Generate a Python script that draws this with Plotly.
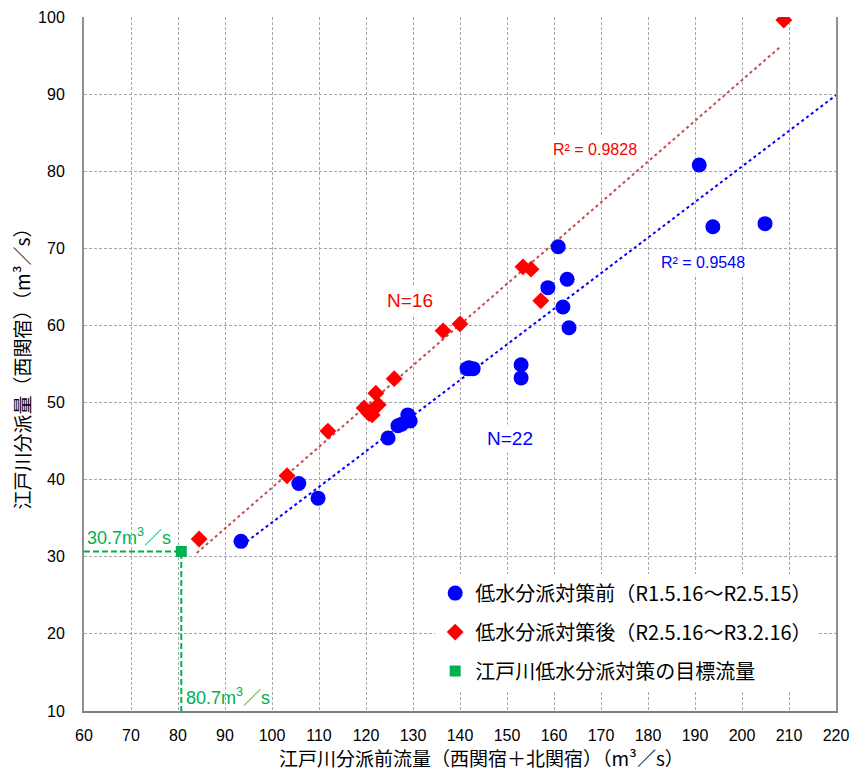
import numpy as np
import plotly.graph_objects as go

# Before countermeasure (blue circles)
before_x = [93.4, 105.7, 109.8, 124.7, 126.8, 128.9, 129.4, 141.5, 142.2, 142.8,
            153.0, 153.0, 158.7, 160.9, 162.8, 161.9, 163.2, 190.9, 193.8, 204.9,
            127.6, 141.9]
before_y = [32.0, 39.5, 37.6, 45.4, 47.0, 48.4, 47.6, 54.4, 54.4, 54.4,
            54.9, 53.2, 64.9, 70.2, 66.0, 62.4, 59.7, 80.8, 72.8, 73.2,
            47.2, 54.5]
# After countermeasure (red diamonds)
after_x = [84.5, 103.2, 111.9, 119.6, 120.6, 121.3, 122.1, 122.6, 126.0, 136.4,
           140.0, 153.4, 155.1, 157.2, 208.9, 121.0]
after_y = [32.3, 40.5, 46.3, 49.3, 48.6, 48.4, 51.2, 49.7, 53.1, 59.3,
           60.2, 67.6, 67.3, 63.2, 99.6, 48.8]
# Target flow
target_x = [80.7]
target_y = [30.7]

# Linear trendlines as shown in the chart (slope, intercept) and x-extent
before_fit = (0.4617, -11.72)
before_fit_range = [94.6, 220.0]
after_fit = (0.5286, -13.9)
after_fit_range = [84.0, 208.1]

x_ticks = list(range(60, 221, 10))
y_ticks = list(range(10, 101, 10))

FONT = "Liberation Sans, Arial, Noto Sans CJK JP, sans-serif"
JFONT = "Noto Sans CJK JP, sans-serif"
GREEN = "#00B050"
GRID = "#A6A6A6"

fig = go.Figure()

ax_ = np.array(after_fit_range)
bx_ = np.array(before_fit_range)
fig.add_trace(go.Scatter(x=ax_, y=after_fit[0] * ax_ + after_fit[1], mode="lines",
                         line=dict(color="#C0504D", width=2, dash="dot"),
                         showlegend=False, hoverinfo="skip"))
fig.add_trace(go.Scatter(x=bx_, y=before_fit[0] * bx_ + before_fit[1], mode="lines",
                         line=dict(color="#0000FF", width=2, dash="dot"),
                         showlegend=False, hoverinfo="skip"))

# green dashed guide lines
fig.add_trace(go.Scatter(x=[60, target_x[0], target_x[0]], y=[target_y[0], target_y[0], 10],
                         mode="lines", line=dict(color=GREEN, width=2, dash="6px,3px"),
                         showlegend=False, hoverinfo="skip"))

fig.add_trace(go.Scatter(x=before_x, y=before_y, mode="markers",
                         name="低水分派対策前（R1.5.16～R2.5.15）",
                         legendgroup="a",
                         marker=dict(symbol="circle", size=15, color="#0000FF")))
fig.add_trace(go.Scatter(x=after_x, y=after_y, mode="markers",
                         name="低水分派対策後（R2.5.16～R3.2.16）",
                         legendgroup="b",
                         marker=dict(symbol="diamond", size=13, color="#FF0000")))
fig.add_trace(go.Scatter(x=target_x, y=target_y, mode="markers",
                         name="江戸川低水分派対策の目標流量",
                         legendgroup="c",
                         marker=dict(symbol="square", size=11, color=GREEN)))

ann = [
    dict(x=168.7, y=82.8, text="R² = 0.9828", color="#FF0000", size=16),
    dict(x=191.7, y=68.2, text="R² = 0.9548", color="#0000FF", size=16),
    dict(x=129.4, y=63.3, text="N=16", color="#FF0000", size=19),
    dict(x=150.6, y=45.4, text="N=22", color="#0000FF", size=19),
]
for a in ann:
    fig.add_annotation(x=a["x"], y=a["y"], text=a["text"], showarrow=False,
                       font=dict(color=a["color"], size=a["size"], family=FONT),
                       bgcolor="white", borderpad=3)

fig.add_annotation(x=target_x[0], y=target_y[0], text="30.7m<sup>3</sup>／s",
                   showarrow=False, xanchor="right", yanchor="bottom", xshift=-8, yshift=1,
                   font=dict(color=GREEN, size=18, family=FONT))
fig.add_annotation(x=target_x[0], y=10, text="80.7m<sup>3</sup>／s",
                   showarrow=False, xanchor="left", yanchor="bottom", xshift=3, yshift=1,
                   font=dict(color=GREEN, size=18, family=FONT))

# x-axis title (placed as annotation to match its offset)
fig.add_annotation(xref="paper", yref="paper", x=0.528, y=-0.0677,
                   text="江戸川分派前流量（西関宿＋北関宿）（m³／s）",
                   showarrow=False, xanchor="center", yanchor="middle",
                   font=dict(size=19, family=JFONT, color="black"))

fig.update_layout(
    width=849, height=763,
    margin=dict(l=76, r=21, t=9, b=60, autoexpand=False),
    paper_bgcolor="white", plot_bgcolor="white",
    font=dict(family=FONT, size=16, color="black"),
    showlegend=True,
    legend=dict(x=0.467, y=0.198, xanchor="left", yanchor="top",
                bgcolor="white", font=dict(size=20, family=JFONT, color="black"),
                tracegroupgap=10, itemsizing="trace"),
    xaxis=dict(range=[60, 220], tickvals=x_ticks, ticks="", showgrid=True,
               gridcolor=GRID, griddash="3px,2px", gridwidth=1,
               showline=True, linecolor="#808080", linewidth=2, mirror=False,
               zeroline=False, tickfont=dict(size=16), ticklabelstandoff=9,
               automargin=False),
    yaxis=dict(range=[10, 100], tickvals=y_ticks, ticks="", showgrid=True,
               gridcolor=GRID, griddash="3px,2px", gridwidth=1,
               showline=True, linecolor="#909090", linewidth=2, mirror=True,
               zeroline=False, tickfont=dict(size=16), ticklabelstandoff=14,
               automargin=False,
               title=dict(text="江戸川分派量（西関宿）（m³／s）",
                          font=dict(size=19, family=JFONT), standoff=8)),
)

fig.write_html("out.html")
